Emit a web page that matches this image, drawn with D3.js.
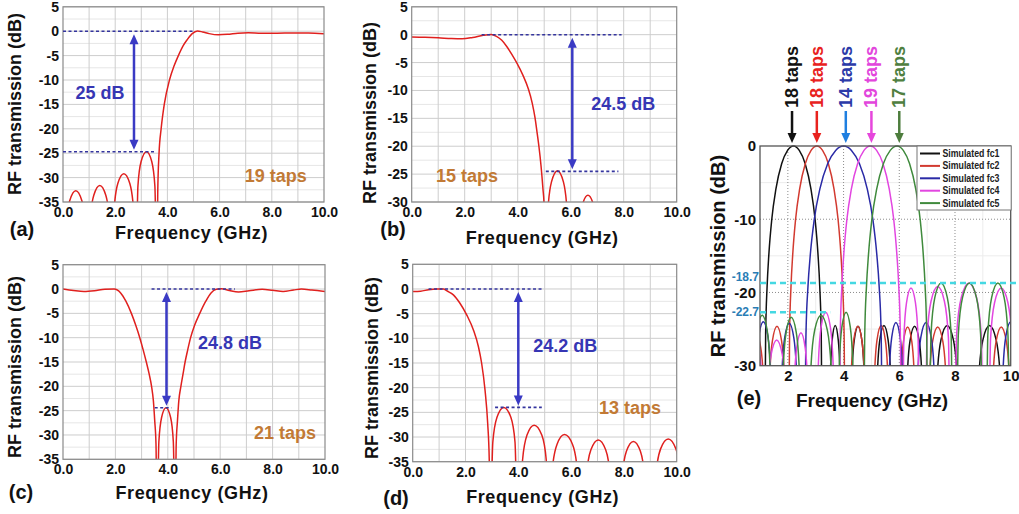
<!DOCTYPE html>
<html>
<head>
<meta charset="UTF-8">
<script src="https://cdn.jsdelivr.net/npm/d3@7"></script>
<style>
  body { margin: 0; background: #fff; }
  svg { display: block; font-family: "Liberation Sans", Arial, sans-serif; font-weight: bold; }
</style>
</head>
<body>
<svg width="1019" height="514"></svg>
<script>
// ---- data (frequency GHz, transmission dB) ----
const freqTicks = [0, 2, 4, 6, 8, 10];
const dbTicks35 = [5, 0, -5, -10, -15, -20, -25, -30, -35];
const dbTicks30 = [5, 0, -5, -10, -15, -20, -25, -30];
const dbTicksE = [0, -10, -20, -30];
const freqTicksE = [2, 4, 6, 8, 10];

// (a) 19 taps
const curveA = [[0.03,-50],[0.122,-39.7],[0.26,-34.7],[0.49,-32.7],[0.72,-34.7],[0.858,-39.7],[0.95,-50],
  [1.042,-38.6],[1.18,-33.6],[1.41,-31.6],[1.64,-33.6],[1.778,-38.6],[1.87,-50],
  [1.962,-36.2],[2.10,-31.2],[2.33,-29.2],[2.56,-31.2],[2.698,-36.2],[2.79,-50],
  [2.871,-31.7],[2.993,-26.7],[3.2,-24.7],[3.40,-26.7],[3.52,-31.7],[3.6,-50],
  [3.63,-33],[3.68,-25],[3.76,-20],[3.88,-15],[4.08,-10],[4.25,-7.2],[4.42,-5],[4.6,-3],[4.75,-1.8],
  [4.95,-0.5],[5.15,0.05],[5.35,-0.15],[5.6,-0.5],[5.95,-0.75],[6.3,-0.65],[6.7,-0.4],[7.1,-0.3],
  [7.6,-0.4],[8.2,-0.4],[8.8,-0.35],[9.4,-0.35],[10,-0.5]];
// (b) 15 taps
const curveB = [[0,-0.4],[0.5,-0.45],[1.0,-0.55],[1.5,-0.7],[1.9,-0.75],[2.3,-0.5],[2.7,-0.1],[3.0,0.05],
  [3.2,-0.3],[3.4,-1.0],[3.6,-2.2],[3.8,-3.7],[3.96,-5],[4.2,-7.3],[4.4,-9.7],[4.55,-12.3],[4.65,-14.8],
  [4.73,-17.5],[4.8,-20],[4.88,-23.5],[4.95,-27.5],[5.0,-31],[5.05,-50],
  [5.14,-31.4],[5.275,-26.4],[5.5,-24.4],[5.725,-26.4],[5.86,-31.4],[5.95,-50],
  [6.2,-50],[6.29,-35.8],[6.425,-30.8],[6.65,-28.8],[6.875,-30.8],[7.01,-35.8],[7.1,-50],[10,-50]];
// (c) 21 taps
const curveC = [[0,0],[0.4,-0.3],[0.8,-0.5],[1.2,-0.35],[1.6,-0.05],[1.95,0],[2.2,-0.8],[2.4,-2.5],
  [2.61,-5],[2.78,-7.5],[2.93,-10],[3.06,-12.5],[3.18,-15],[3.29,-17.5],[3.38,-20],[3.45,-23],[3.5,-27],
  [3.55,-32],[3.59,-50],
  [3.659,-31.4],[3.763,-26.4],[3.93,-24.4],[4.108,-26.4],[4.211,-31.4],[4.28,-50],
  [4.32,-32],[4.37,-27],[4.42,-23],[4.5,-20],[4.58,-17.5],[4.66,-15],[4.76,-12.5],[4.87,-10],[5.02,-7.5],
  [5.22,-5],[5.45,-2.5],[5.65,-0.8],[5.85,-0.05],[6.05,0.05],[6.35,-0.3],[6.7,-0.6],[7.1,-0.35],
  [7.6,-0.05],[8.0,-0.25],[8.4,-0.5],[8.8,-0.2],[9.1,0],[9.5,-0.2],[10,-0.5]];
// (d) 13 taps
const curveD = [[0,-0.5],[0.3,-0.45],[0.6,-0.15],[0.9,0],[1.16,0],[1.3,-0.4],[1.54,-1.2],[1.79,-2.9],
  [2.05,-5.3],[2.3,-8.3],[2.49,-11.7],[2.61,-15],[2.74,-20.5],[2.84,-27.2],[2.9,-34.7],[2.93,-50],
  [3.035,-31],[3.193,-26],[3.45,-24],[3.718,-26],[3.875,-31],[3.98,-50],
  [4.05,-50],[4.162,-34.6],[4.33,-29.6],[4.6,-27.6],[4.89,-29.6],[5.058,-34.6],[5.17,-50],
  [5.288,-36.5],[5.465,-31.5],[5.75,-29.5],[6.055,-31.5],[6.232,-36.5],[6.35,-50],
  [6.47,-50],[6.582,-37.6],[6.75,-32.6],[7.03,-30.6],[7.31,-32.6],[7.478,-37.6],[7.59,-50],
  [7.83,-50],[7.936,-37.9],[8.095,-32.9],[8.36,-30.9],[8.625,-32.9],[8.784,-37.9],[8.89,-50],
  [9.1,-50],[9.216,-37.4],[9.39,-32.4],[9.68,-30.4],[9.97,-32.4],[10.144,-37.4],[10.26,-50]];

// (e) simulated tunable bandpass responses
const fc1 = [[1.0,-50],[1.15,-50],[1.2025,-25.6],[1.255,-19.2],[1.318,-14.8],[1.423,-10],[1.57,-5.9],[1.78,-2.4],
  [1.99,-0.6],[2.2,0],[2.41,-0.6],[2.62,-2.4],[2.83,-5.9],[2.977,-10],[3.082,-14.8],[3.145,-19.2],[3.1975,-25.6],[3.25,-50],
  [3.48,-50],[3.524,-31.5],[3.59,-26.5],[3.70,-24.5],[3.81,-26.5],[3.876,-31.5],[3.92,-50],
  [4.24,-50],[4.296,-31.6],[4.38,-26.6],[4.52,-24.6],[4.66,-26.6],[4.744,-31.6],[4.80,-50],
  [5.15,-50],[5.21,-31.5],[5.30,-26.5],[5.45,-24.5],[5.60,-26.5],[5.69,-31.5],[5.75,-50],
  [6.22,-50],[6.286,-31.6],[6.385,-26.6],[6.55,-24.6],[6.715,-26.6],[6.814,-31.6],[6.88,-50],
  [7.27,-50],[7.36,-31.5],[7.495,-26.5],[7.72,-24.5],[7.945,-26.5],[8.08,-31.5],[8.17,-50],
  [8.76,-50],[8.856,-31.5],[9.0,-26.5],[9.24,-24.5],[9.48,-26.5],[9.624,-31.5],[9.72,-50],[10,-50]];
const fc2 = [[0.5,-50],[0.57,-32.5],[0.675,-27.5],[0.85,-25.5],[1.025,-27.5],[1.13,-32.5],[1.2,-50],
  [1.28,-50],[1.346,-31.6],[1.445,-26.6],[1.61,-24.6],[1.775,-26.6],[1.874,-31.6],[1.94,-50],
  [2.01,-50],[2.062,-25.6],[2.113,-19.2],[2.175,-14.8],[2.278,-10],[2.422,-5.9],[2.628,-2.4],[2.834,-0.6],
  [3.04,0],[3.246,-0.6],[3.452,-2.4],[3.658,-5.9],[3.802,-10],[3.905,-14.8],[3.967,-19.2],[4.019,-25.6],[4.07,-50],
  [4.21,-50],[4.27,-31.6],[4.36,-26.6],[4.51,-24.6],[4.66,-26.6],[4.75,-31.6],[4.81,-50],
  [5.05,-50],[5.11,-31.5],[5.20,-26.5],[5.35,-24.5],[5.50,-26.5],[5.59,-31.5],[5.65,-50],
  [6.00,-50],[6.06,-31.7],[6.15,-26.7],[6.30,-24.7],[6.45,-26.7],[6.54,-31.7],[6.60,-50],
  [7.01,-50],[7.084,-31.7],[7.195,-26.7],[7.38,-24.7],[7.565,-26.7],[7.676,-31.7],[7.75,-50],
  [9.29,-50],[9.364,-31.7],[9.475,-26.7],[9.66,-24.7],[9.845,-26.7],[9.956,-31.7],[10.03,-50]];
const fc3 = [[0.79,-50],[0.856,-31],[0.955,-26],[1.12,-24],[1.285,-26],[1.384,-31],[1.45,-50],
  [1.72,-50],[1.786,-31.2],[1.885,-26.2],[2.05,-24.2],[2.215,-26.2],[2.314,-31.2],[2.38,-50],
  [2.58,-50],[2.651,-25.6],[2.722,-19.2],[2.807,-14.8],[2.949,-10],[3.148,-5.9],[3.432,-2.4],[3.716,-0.6],
  [4.0,0],[4.284,-0.6],[4.568,-2.4],[4.852,-5.9],[5.051,-10],[5.193,-14.8],[5.278,-19.2],[5.349,-25.6],[5.42,-50],
  [5.58,-50],[5.64,-31.1],[5.73,-26.1],[5.88,-24.1],[6.03,-26.1],[6.12,-31.1],[6.18,-50],
  [6.59,-50],[6.664,-31.1],[6.775,-26.1],[6.96,-24.1],[7.145,-26.1],[7.256,-31.1],[7.33,-50],
  [9.65,-50],[9.72,-31],[9.825,-26],[10.0,-24],[10.175,-26],[10.28,-31],[10.35,-50]];
const fc4 = [[0.45,-50],[0.52,-33],[0.625,-28],[0.8,-26],[0.975,-28],[1.08,-33],[1.15,-50],
  [1.2,-50],[1.28,-33.5],[1.4,-28.5],[1.6,-26.5],[1.8,-28.5],[1.92,-33.5],[2.0,-50],
  [2.17,-50],[2.23,-32.5],[2.32,-27.5],[2.47,-25.5],[2.62,-27.5],[2.71,-32.5],[2.77,-50],
  [3.03,-50],[3.096,-29.7],[3.195,-24.7],[3.36,-22.7],[3.525,-24.7],[3.624,-29.7],[3.69,-50],
  [3.825,-50],[3.882,-25.6],[3.938,-19.2],[4.007,-14.8],[4.12,-10],[4.279,-5.9],[4.506,-2.4],[4.733,-0.6],
  [4.96,0],[5.187,-0.6],[5.414,-2.4],[5.641,-5.9],[5.80,-10],[5.913,-14.8],[5.982,-19.2],[6.038,-25.6],[6.095,-50],
  [6.164,-26.4],[6.26,-21.4],[6.42,-19.4],[6.58,-21.4],[6.676,-26.4],[6.74,-50],
  [6.90,-50],[6.996,-26.2],[7.14,-21.2],[7.38,-19.2],[7.62,-21.2],[7.764,-26.2],[7.86,-50],
  [7.95,-50],[8.06,-25.7],[8.225,-20.7],[8.5,-18.7],[8.775,-20.7],[8.94,-25.7],[9.05,-50],
  [9.18,-50],[9.276,-26.4],[9.42,-21.4],[9.66,-19.4],[9.90,-21.4],[10.044,-26.4],[10.14,-50]];
const fc5 = [[0.73,-50],[0.80,-30.1],[0.905,-25.1],[1.08,-23.1],[1.255,-25.1],[1.36,-30.1],[1.43,-50],
  [1.76,-50],[1.832,-30.4],[1.94,-25.4],[2.12,-23.4],[2.30,-25.4],[2.408,-30.4],[2.48,-50],
  [2.74,-50],[2.83,-30.1],[2.965,-25.1],[3.19,-23.1],[3.415,-25.1],[3.55,-30.1],[3.64,-50],
  [3.79,-50],[3.85,-29.7],[3.94,-24.7],[4.09,-22.7],[4.24,-24.7],[4.33,-29.7],[4.39,-50],
  [4.70,-50],[4.761,-25.6],[4.822,-19.2],[4.895,-14.8],[5.017,-10],[5.188,-5.9],[5.432,-2.4],[5.676,-0.6],
  [5.92,0],[6.144,-0.6],[6.368,-2.4],[6.592,-5.9],[6.749,-10],[6.861,-14.8],[6.928,-19.2],[6.984,-25.6],[7.04,-50],
  [7.14,-25.7],[7.275,-20.7],[7.5,-18.7],[7.725,-20.7],[7.86,-25.7],[7.95,-50],
  [8.02,-50],[8.12,-25.7],[8.27,-20.7],[8.52,-18.7],[8.77,-20.7],[8.92,-25.7],[9.02,-50],
  [9.09,-50],[9.18,-25.7],[9.315,-20.7],[9.54,-18.7],[9.765,-20.7],[9.90,-25.7],[9.99,-50]];

const seriesE = ["Simulated fc1", "Simulated fc2", "Simulated fc3", "Simulated fc4", "Simulated fc5"];
const curvesE = [fc1, fc2, fc3, fc4, fc5];
const tapsE = ["18 taps", "18 taps", "14 taps", "19 taps", "17 taps"];
const peakE = [2.15, 3.04, 4.08, 5.0, 6.0];
const levelsE = [[-18.7, 1, 10.3], [-22.7, 1, 3.52]];   // [dB, from GHz, to GHz]

// ---- drawing ----
const svg = d3.select("svg");
const RED = "#e0201e", DASH = "#34349e", ARROW = "#3a3ac4", TAPS = "#c27a35";

const panels = [
  { data: curveA, yTicks: dbTicks35, yMin: -35, left: 63, right: 324, top: 6.8, bottom: 202,
    tag: "(a)", tagX: 22, tagY: 236, ytX: 15, ytY: 104, xtY: 239,
    dashes: [[0, 0, 5.0], [-24.7, 0, 3.5]], arrowX: 2.72, level: -24.7,
    db: "25 dB", dbPos: [1.42, -12.7], taps: "19 taps", tapsPos: [8.15, -29.7] },
  { data: curveB, yTicks: dbTicks30, yMin: -30, left: 411.7, right: 676.7, top: 6.8, bottom: 202,
    tag: "(b)", tagX: 393, tagY: 236, ytX: 370, ytY: 113, xtY: 244,
    dashes: [[0, 2.64, 7.92], [-24.5, 5.06, 7.8]], arrowX: 6.06, level: -24.5,
    db: "24.5 dB", dbPos: [7.98, -12.4], taps: "15 taps", tapsPos: [2.09, -25.3] },
  { data: curveC, yTicks: dbTicks35, yMin: -35, left: 63, right: 325, top: 264.7, bottom: 459.3,
    tag: "(c)", tagX: 21, tagY: 499, ytX: 15, ytY: 367, xtY: 499,
    dashes: [[0, 3.38, 6.56], [-24.4, 3.5, 4.14]], arrowX: 3.95, level: -24.4,
    db: "24.8 dB", dbPos: [6.37, -11.1], taps: "21 taps", tapsPos: [8.47, -29.6] },
  { data: curveD, yTicks: dbTicks35, yMin: -35, left: 412.7, right: 676.7, top: 264.3, bottom: 461.7,
    tag: "(d)", tagX: 396, tagY: 505, ytX: 372, ytY: 368, xtY: 503,
    dashes: [[0, 0.6, 4.89], [-24, 3.12, 4.89]], arrowX: 4.0, level: -24,
    db: "24.2 dB", dbPos: [5.78, -11.5], taps: "13 taps", tapsPos: [8.23, -24.1] }
];

function vArrow(g, x, yA, yB, color, both) {
  const hl = 10, hw = 4.5;
  g.append("line").attr("x1", x).attr("x2", x)
    .attr("y1", both ? yA + hl - 1 : yA).attr("y2", yB - hl + 1)
    .attr("stroke", color).attr("stroke-width", 2.5);
  if (both) g.append("path").attr("d", `M${x},${yA}L${x - hw},${yA + hl}L${x + hw},${yA + hl}Z`).attr("fill", color);
  g.append("path").attr("d", `M${x},${yB}L${x - hw},${yB - hl}L${x + hw},${yB - hl}Z`).attr("fill", color);
}

panels.forEach((p, i) => {
  const x = d3.scaleLinear().domain([0, 10]).range([p.left, p.right]);
  const y = d3.scaleLinear().domain([p.yMin, 5]).range([p.bottom, p.top]);
  const g = svg.append("g");

  // grid
  g.selectAll(".hg").data(d3.range(p.yMin, 5.01, 2.5)).join("line")
    .attr("x1", p.left).attr("x2", p.right).attr("y1", d => y(d)).attr("y2", d => y(d))
    .attr("stroke", d => d % 5 === 0 ? "#cdcdcd" : "#e6e6e6").attr("stroke-width", 1);
  g.selectAll(".vg").data(d3.range(1, 10, 1)).join("line")
    .attr("y1", p.top).attr("y2", p.bottom).attr("x1", d => x(d)).attr("x2", d => x(d))
    .attr("stroke", "#cdcdcd").attr("stroke-width", 1);

  // curve
  const clipId = "clip" + i;
  svg.append("clipPath").attr("id", clipId).append("rect")
    .attr("x", p.left).attr("y", p.top).attr("width", p.right - p.left).attr("height", p.bottom - p.top);
  const line = d3.line().x(d => x(d[0])).y(d => y(d[1])).curve(d3.curveMonotoneX);
  g.append("path").datum(p.data).attr("d", line).attr("clip-path", `url(#${clipId})`)
    .attr("fill", "none").attr("stroke", RED).attr("stroke-width", 1.5);

  // frame
  g.append("rect").attr("x", p.left).attr("y", p.top).attr("width", p.right - p.left)
    .attr("height", p.bottom - p.top).attr("fill", "none").attr("stroke", "#8a8a8a").attr("stroke-width", 1.2);

  // axes
  const ax = g.append("g").attr("transform", `translate(0,${p.bottom})`)
    .call(d3.axisBottom(x).tickValues(freqTicks).tickFormat(d => d.toFixed(1)).tickSize(0).tickPadding(5));
  const ay = g.append("g").attr("transform", `translate(${p.left},0)`)
    .call(d3.axisLeft(y).tickValues(p.yTicks).tickFormat(d => String(d)).tickSize(0).tickPadding(4));
  [ax, ay].forEach(a => {
    a.select(".domain").remove();
    a.selectAll("text").attr("font-size", 14).attr("font-weight", "bold")
      .attr("font-family", "Liberation Sans, Arial, sans-serif").attr("fill", "#111");
  });

  // titles
  g.append("text").attr("transform", `translate(${p.ytX},${p.ytY}) rotate(-90)`)
    .attr("text-anchor", "middle").attr("dominant-baseline", "central")
    .attr("font-size", 18).attr("fill", "#111").text("RF transmission (dB)");
  g.append("text").attr("x", (p.left + p.right) / 2 - 2).attr("y", p.xtY)
    .attr("text-anchor", "middle").attr("font-size", 18).attr("fill", "#111")
    .attr("letter-spacing", 0.6).text("Frequency (GHz)");
  g.append("text").attr("x", p.tagX).attr("y", p.tagY).attr("text-anchor", "middle")
    .attr("font-size", 20).attr("fill", "#111").text(p.tag);

  // annotations
  p.dashes.forEach(([lv, a, b]) => {
    g.append("line").attr("x1", x(a)).attr("x2", x(b)).attr("y1", y(lv)).attr("y2", y(lv))
      .attr("stroke", DASH).attr("stroke-width", 1.6).attr("stroke-dasharray", "3,2.5");
  });
  vArrow(g, x(p.arrowX), y(0) + 3, y(p.level) - 2, ARROW, true);
  g.append("text").attr("x", x(p.dbPos[0])).attr("y", y(p.dbPos[1])).attr("text-anchor", "middle")
    .attr("dominant-baseline", "central").attr("font-size", 18).attr("fill", "#3636b4").text(p.db);
  g.append("text").attr("x", x(p.tapsPos[0])).attr("y", y(p.tapsPos[1])).attr("text-anchor", "middle")
    .attr("dominant-baseline", "central").attr("font-size", 18).attr("fill", TAPS).text(p.taps);
});

// ---- panel (e) ----
(function () {
  const E = { left: 760, right: 1010.7, top: 146, bottom: 365.7 };
  const colors = ["#111111", "#d23a30", "#2a2aa6", "#e246e0", "#3f8a3c"];
  const arrowCol = ["#111111", "#e8221e", "#1f7fe0", "#e646dc", "#4d7d3d"];
  const textCol = ["#111111", "#e8221e", "#2b3aa8", "#e246dc", "#4f8040"];
  const x = d3.scaleLinear().domain([1, 10]).range([E.left, E.right]);
  const y = d3.scaleLinear().domain([-30, 0]).range([E.bottom, E.top]);
  const g = svg.append("g");

  g.selectAll(".lg").data([3, 5, 7, 9]).join("line")
    .attr("x1", d => x(d)).attr("x2", d => x(d)).attr("y1", E.top).attr("y2", E.bottom)
    .attr("stroke", "#ececec");
  g.selectAll(".lh").data([-5, -15, -25]).join("line")
    .attr("y1", d => y(d)).attr("y2", d => y(d)).attr("x1", E.left).attr("x2", E.right)
    .attr("stroke", "#ececec");
  g.selectAll(".dg").data([2, 4, 6, 8]).join("line")
    .attr("x1", d => x(d)).attr("x2", d => x(d)).attr("y1", E.top).attr("y2", E.bottom)
    .attr("stroke", "#8c8c8c").attr("stroke-dasharray", "1,2");
  g.selectAll(".dh").data([-10, -20]).join("line")
    .attr("y1", d => y(d)).attr("y2", d => y(d)).attr("x1", E.left).attr("x2", E.right)
    .attr("stroke", "#8c8c8c").attr("stroke-dasharray", "1,2");

  svg.append("clipPath").attr("id", "clipE").append("rect")
    .attr("x", E.left).attr("y", E.top - 1).attr("width", E.right - E.left).attr("height", E.bottom - E.top + 1);
  const line = d3.line().x(d => x(d[0])).y(d => y(d[1])).curve(d3.curveMonotoneX);
  curvesE.forEach((c, i) => {
    g.append("path").datum(c).attr("d", line).attr("clip-path", "url(#clipE)")
      .attr("fill", "none").attr("stroke", colors[i]).attr("stroke-width", 1.5);
  });

  g.append("rect").attr("x", E.left).attr("y", E.top).attr("width", E.right - E.left)
    .attr("height", E.bottom - E.top).attr("fill", "none").attr("stroke", "#555").attr("stroke-width", 1.3);

  // cyan reference levels (label nudged above the upper line, as in the figure)
  levelsE.forEach(([lv, a, b], i) => {
    g.append("line").attr("x1", x(a)).attr("x2", x(b)).attr("y1", y(lv)).attr("y2", y(lv))
      .attr("stroke", "#45d8e2").attr("stroke-width", 2.6).attr("stroke-dasharray", "6,4");
    g.append("text").attr("x", 759).attr("y", y(lv) - (i === 0 ? 6 : 0)).attr("text-anchor", "end")
      .attr("dominant-baseline", "central").attr("font-size", 12).attr("fill", "#2a7db5").text(lv);
  });

  // legend
  const lg = g.append("g");
  lg.append("rect").attr("x", 917).attr("y", E.top).attr("width", 94.2).attr("height", 64)
    .attr("fill", "#fff").attr("stroke", "#777").attr("stroke-width", 1);
  seriesE.forEach((s, i) => {
    const yy = 153.5 + i * 12.4;
    lg.append("line").attr("x1", 920).attr("x2", 940).attr("y1", yy).attr("y2", yy)
      .attr("stroke", colors[i]).attr("stroke-width", 2);
    lg.append("text").attr("x", 942.5).attr("y", yy).attr("dominant-baseline", "central")
      .attr("font-size", 10).attr("fill", "#222").attr("textLength", 57)
      .attr("lengthAdjust", "spacingAndGlyphs").text(s);
  });

  // axes
  const ax = g.append("g").attr("transform", `translate(0,${E.bottom})`)
    .call(d3.axisBottom(x).tickValues(freqTicksE).tickFormat(d => String(d)).tickSize(0).tickPadding(5));
  const ay = g.append("g").attr("transform", `translate(${E.left},0)`)
    .call(d3.axisLeft(y).tickValues(dbTicksE).tickFormat(d => String(d)).tickSize(0).tickPadding(4));
  [ax, ay].forEach(a => {
    a.select(".domain").remove();
    a.selectAll("text").attr("font-size", 15).attr("font-weight", "bold")
      .attr("font-family", "Liberation Sans, Arial, sans-serif").attr("fill", "#111");
  });

  g.append("text").attr("transform", "translate(718,256) rotate(-90)")
    .attr("text-anchor", "middle").attr("dominant-baseline", "central")
    .attr("font-size", 20).attr("fill", "#111").text("RF transmission (dB)");
  g.append("text").attr("x", 872).attr("y", 407).attr("text-anchor", "middle")
    .attr("font-size", 19).attr("fill", "#111").text("Frequency (GHz)");
  g.append("text").attr("x", 749).attr("y", 405).attr("text-anchor", "middle")
    .attr("font-size", 20).attr("fill", "#111").text("(e)");

  // taps arrows above the peaks
  tapsE.forEach((t, i) => {
    const px = x(peakE[i]);
    g.append("text").attr("transform", `translate(${px},108) rotate(-90)`)
      .attr("dominant-baseline", "central").attr("font-size", 18).attr("fill", textCol[i]).text(t);
    vArrow(g, px, 111, 143, arrowCol[i], false);
  });
})();
</script>
</body>
</html>
